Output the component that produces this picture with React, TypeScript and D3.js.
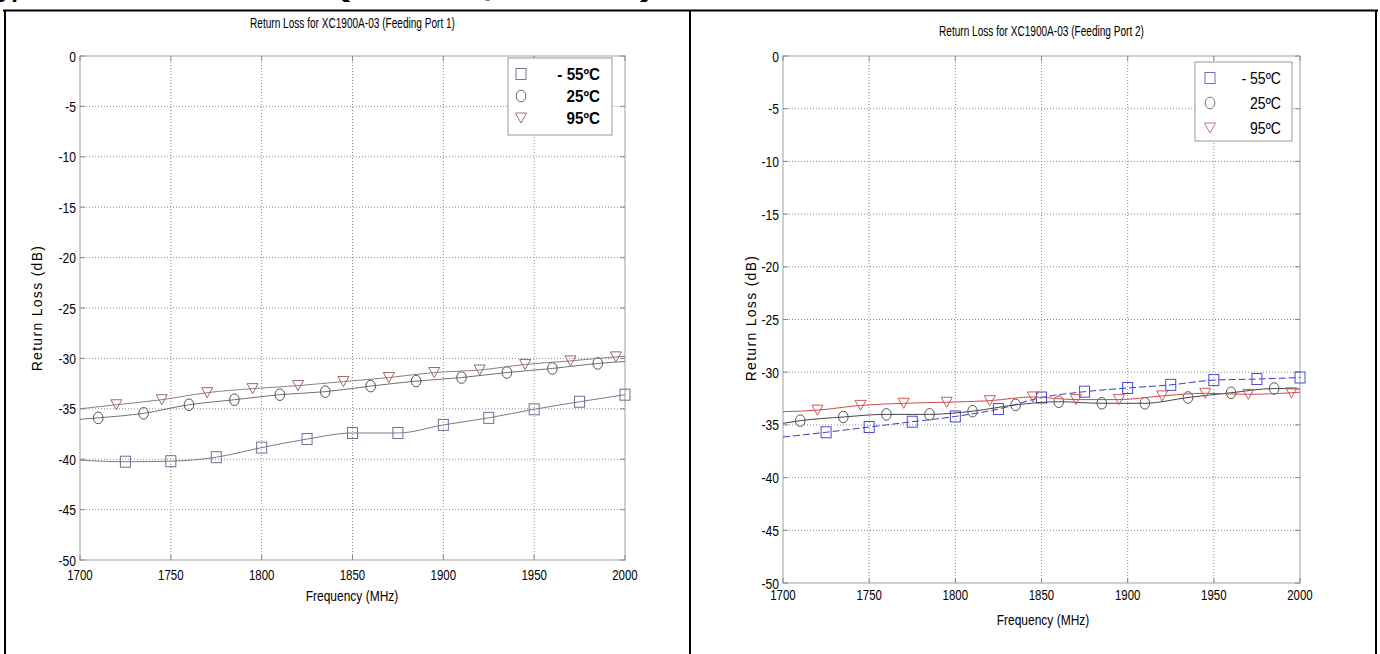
import React from 'react';
import * as d3 from 'd3';

const X_DOMAIN: [number, number] = [1700, 2000];
const Y_DOMAIN: [number, number] = [-50, 0];
const X_TICKS = [1700, 1750, 1800, 1850, 1900, 1950, 2000];
const Y_TICKS = [0, -5, -10, -15, -20, -25, -30, -35, -40, -45, -50];

const LEGEND_LABELS = ['- 55ºC', '25ºC', '95ºC'];

// Marker frequencies
const SQ_FREQ = [1725, 1750, 1775, 1800, 1825, 1850, 1875, 1900, 1925, 1950, 1975, 2000];
const CI_FREQ = [1710, 1735, 1760, 1785, 1810, 1835, 1860, 1885, 1910, 1935, 1960, 1985];
const TR_FREQ = [1720, 1745, 1770, 1795, 1820, 1845, 1870, 1895, 1920, 1945, 1970, 1995];

// Port 1 values (dB)
const P1_SQ = [-40.25, -40.2, -39.8, -38.85, -38.0, -37.4, -37.4, -36.6, -35.9, -35.05, -34.3, -33.6];
const P1_CI = [-35.9, -35.45, -34.6, -34.1, -33.6, -33.3, -32.75, -32.25, -31.9, -31.4, -31.0, -30.5];
const P1_TR = [-34.6, -34.1, -33.4, -33.0, -32.7, -32.3, -31.9, -31.4, -31.15, -30.6, -30.25, -29.85];
// line end values at 1700 / 2000 MHz
const P1_SQ_ENDS = [-40.1, -33.6];
const P1_CI_ENDS = [-36.05, -30.3];
const P1_TR_ENDS = [-35.0, -29.8];

// Port 2 values (dB)
const P2_SQ = [-35.7, -35.2, -34.7, -34.2, -33.5, -32.4, -31.85, -31.5, -31.2, -30.75, -30.65, -30.5];
const P2_CI = [-34.6, -34.25, -34.0, -34.0, -33.7, -33.1, -32.8, -32.95, -32.95, -32.4, -31.95, -31.55];
const P2_TR = [-33.6, -33.15, -32.95, -32.85, -32.7, -32.35, -32.6, -32.6, -32.25, -32.0, -32.1, -31.95];
const P2_SQ_ENDS = [-36.15, -30.5];
const P2_CI_ENDS = [-34.85, -31.6];
const P2_TR_ENDS = [-33.75, -31.9];

const FONT = "'Liberation Sans', Arial, sans-serif";

type Series = { freq: number[]; vals: number[]; ends: number[]; marker: 'sq' | 'ci' | 'tr'; line: string; mark: string; dash?: string };

type PanelCfg = {
  title: string; x0: number; x1: number; y0: number; y1: number;
  titleY: number; ylabelX: number; ylabelY: number; xtickY: number; xlabelY: number; xlabelX: number;
  legend: { x: number; y: number; w: number; h: number; bold: boolean; mx: number; rows: number[]; tx: number; colors: string[]; fs: number; sx: number };
  series: Series[];
};

function T({ x, y, size, sx = 0.82, anchor = 'start', bold = false, rot = 0, ls = 0, children }: any) {
  return (
    <text
      transform={`translate(${x},${y}) rotate(${rot}) scale(${sx},1)`}
      textAnchor={anchor}
      fontSize={size}
      fontWeight={bold ? 'bold' : 'normal'}
      letterSpacing={ls}
      fontFamily={FONT}
      fill="#000"
    >
      {children}
    </text>
  );
}

function Marker({ kind, cx, cy, color }: { kind: string; cx: number; cy: number; color: string }) {
  if (kind === 'sq') return <rect x={cx - 5} y={cy - 5.5} width={10} height={11} fill="none" stroke={color} strokeWidth={1} />;
  if (kind === 'ci') return <ellipse cx={cx} cy={cy} rx={4.8} ry={5.8} fill="none" stroke={color} strokeWidth={1} />;
  return <path d={`M${cx - 5.5},${cy - 5}L${cx + 5.5},${cy - 5}L${cx},${cy + 5}Z`} fill="none" stroke={color} strokeWidth={1} />;
}

function Panel({ cfg }: { cfg: PanelCfg }) {
  const x = d3.scaleLinear().domain(X_DOMAIN).range([cfg.x0, cfg.x1]);
  const y = d3.scaleLinear().domain(Y_DOMAIN).range([cfg.y1, cfg.y0]);
  const line = d3.line<[number, number]>().x(d => x(d[0])).y(d => y(d[1])).curve(d3.curveMonotoneX);
  const cx = (cfg.x0 + cfg.x1) / 2;
  const lg = cfg.legend;
  return (
    <g>
      <T x={cx} y={cfg.titleY} size={14} sx={0.72} anchor="middle">{cfg.title}</T>
      {/* grid */}
      {X_TICKS.slice(1, -1).map(t => (
        <line key={'gx' + t} x1={x(t)} x2={x(t)} y1={cfg.y0} y2={cfg.y1} stroke="#8a8a8a" strokeWidth={1} strokeDasharray="1,2" />
      ))}
      {Y_TICKS.slice(1, -1).map(t => (
        <line key={'gy' + t} x1={cfg.x0} x2={cfg.x1} y1={y(t)} y2={y(t)} stroke="#8a8a8a" strokeWidth={1} strokeDasharray="1,2" />
      ))}
      {/* frame */}
      <rect x={cfg.x0} y={cfg.y0} width={cfg.x1 - cfg.x0} height={cfg.y1 - cfg.y0} fill="none" stroke="#b0b0b0" strokeWidth={1.2} />
      {/* ticks */}
      {X_TICKS.map(t => (
        <g key={'tx' + t}>
          <line x1={x(t)} x2={x(t)} y1={cfg.y1} y2={cfg.y1 - 5} stroke="#888" />
          <line x1={x(t)} x2={x(t)} y1={cfg.y0} y2={cfg.y0 + 5} stroke="#888" />
          <T x={x(t)} y={cfg.xtickY} size={15.5} sx={0.74} anchor="middle">{t}</T>
        </g>
      ))}
      {Y_TICKS.map(t => (
        <g key={'ty' + t}>
          <line x1={cfg.x0} x2={cfg.x0 + 5} y1={y(t)} y2={y(t)} stroke="#888" />
          <line x1={cfg.x1} x2={cfg.x1 - 5} y1={y(t)} y2={y(t)} stroke="#888" />
          <T x={cfg.x0 - 4} y={y(t) + 5.5} size={15.5} sx={0.78} anchor="end">{t}</T>
        </g>
      ))}
      <T x={cfg.xlabelX} y={cfg.xlabelY} size={15} sx={0.8} anchor="middle">Frequency (MHz)</T>
      <T x={cfg.ylabelX} y={cfg.ylabelY} size={14} sx={1} rot={-90} ls={1.3} anchor="middle">Return Loss (dB)</T>
      {/* series */}
      {cfg.series.map((s, i) => {
        const pts: [number, number][] = [[X_DOMAIN[0], s.ends[0]], ...s.freq.map((f, j) => [f, s.vals[j]] as [number, number])];
        if (s.freq[s.freq.length - 1] < X_DOMAIN[1]) pts.push([X_DOMAIN[1], s.ends[1]]);
        return (
          <g key={'s' + i}>
            <path d={line(pts) || ''} fill="none" stroke={s.line} strokeWidth={1} strokeDasharray={s.dash} />
            {s.freq.map((f, j) => <Marker key={j} kind={s.marker} cx={x(f)} cy={y(s.vals[j])} color={s.mark} />)}
          </g>
        );
      })}
      {/* legend */}
      <rect x={lg.x} y={lg.y} width={lg.w} height={lg.h} fill="#fff" stroke="#999" strokeWidth={1} />
      {LEGEND_LABELS.map((l, i) => (
        <g key={'lg' + i}>
          <Marker kind={cfg.series[i].marker} cx={lg.mx} cy={lg.rows[i]} color={lg.colors[i]} />
          <T x={lg.tx} y={lg.rows[i] + 5.5} size={lg.fs} sx={lg.sx} bold={lg.bold} anchor="end">{l}</T>
        </g>
      ))}
    </g>
  );
}

const LEFT: PanelCfg = {
  title: 'Return Loss for XC1900A-03 (Feeding Port 1)',
  x0: 80, x1: 625, y0: 56, y1: 560,
  titleY: 28, ylabelX: 42, ylabelY: 308, xtickY: 580, xlabelY: 601, xlabelX: 352,
  legend: { x: 508, y: 58, w: 104, h: 77, bold: true, mx: 521, rows: [74, 96, 118], tx: 600, colors: ['#77778f', '#666', '#a07575'], fs: 16.5, sx: 0.92 },
  series: [
    { freq: SQ_FREQ, vals: P1_SQ, ends: P1_SQ_ENDS, marker: 'sq', line: '#7a7a8a', mark: '#6f6f95' },
    { freq: CI_FREQ, vals: P1_CI, ends: P1_CI_ENDS, marker: 'ci', line: '#707070', mark: '#505050' },
    { freq: TR_FREQ, vals: P1_TR, ends: P1_TR_ENDS, marker: 'tr', line: '#8f7f7f', mark: '#a06565' },
  ],
};

const RIGHT: PanelCfg = {
  title: 'Return Loss for XC1900A-03 (Feeding Port 2)',
  x0: 783, x1: 1300, y0: 56, y1: 583,
  titleY: 36, ylabelX: 756, ylabelY: 318, xtickY: 600, xlabelY: 625, xlabelX: 1043,
  legend: { x: 1195, y: 62, w: 97, h: 79, bold: false, mx: 1210, rows: [78, 103, 128], tx: 1281, colors: ['#7070c8', '#777', '#c07070'], fs: 16, sx: 0.88 },
  series: [
    { freq: SQ_FREQ, vals: P2_SQ, ends: P2_SQ_ENDS, marker: 'sq', line: '#3c3cc8', mark: '#4848d0', dash: '7,3' },
    { freq: CI_FREQ, vals: P2_CI, ends: P2_CI_ENDS, marker: 'ci', line: '#444', mark: '#555' },
    { freq: TR_FREQ, vals: P2_TR, ends: P2_TR_ENDS, marker: 'tr', line: '#d04848', mark: '#d05858' },
  ],
};

export default function App() {
  return (
    <svg width={1380} height={654} style={{ position: 'absolute', left: 0, top: 0, background: '#fff' }}>
      <rect x={0} y={0} width={1380} height={654} fill="#fff" />
      <text x={-15} y={-3} fontSize={24} fontWeight="bold" fontFamily={FONT}>Typical Return Loss</text>
      <text x={335} y={-3} fontSize={24} fontWeight="bold" textLength={320} lengthAdjust="spacingAndGlyphs" fontFamily={FONT}>(Port 1, Port 2)</text>
      {/* table borders */}
      <line x1={3} x2={1378} y1={10.5} y2={10.5} stroke="#000" strokeWidth={2} />
      <line x1={5} x2={5} y1={10} y2={654} stroke="#000" strokeWidth={2} />
      <line x1={690} x2={690} y1={10} y2={654} stroke="#000" strokeWidth={2} />
      <line x1={1376} x2={1376} y1={10} y2={654} stroke="#000" strokeWidth={2} />
      <Panel cfg={LEFT} />
      <Panel cfg={RIGHT} />
    </svg>
  );
}
